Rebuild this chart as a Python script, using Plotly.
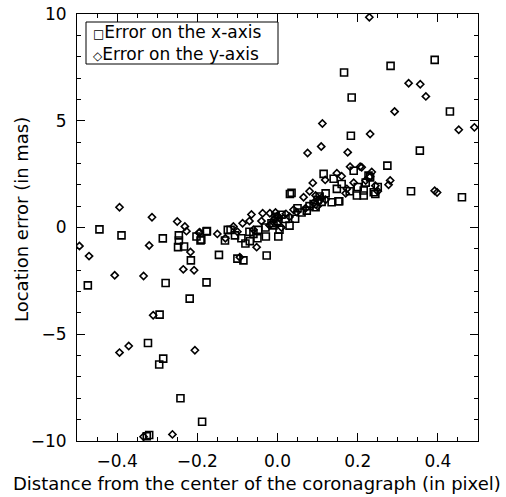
import plotly.graph_objects as go

# Error on the x-axis (squares): distance from center (pixel), location error (mas)
sq_x = [-0.039, 0.392, 0.282, 0.166, 0.185, 0.43, 0.183, 0.355, 0.274, 0.333, 0.46, 0.154, 0.135,
        -0.444, -0.389, -0.286, -0.246, -0.246, -0.248, -0.233, -0.202, -0.192, -0.177, -0.216,
        -0.473, -0.279, -0.177, -0.219, -0.294, -0.323, -0.285, -0.295, -0.242, -0.188, -0.32, -0.326,
        -0.176, -0.19, -0.124, -0.117, -0.131, -0.146, -0.10, -0.085, -0.027, -0.106, -0.069, -0.048,
        -0.029, 0.002, 0.03, 0.044, 0.031, 0.035, 0.073, 0.115, 0.148, 0.152, 0.14, 0.16, 0.19, 0.231,
        0.198, 0.215, 0.244, 0.227, 0.24, 0.215,
        -0.01, 0.0, -0.005, 0.005, -0.015, 0.01, -0.06, -0.05, -0.07, 0.09, 0.10, 0.095, 0.105, 0.11,
        0.08, 0.06, 0.05, 0.12, 0.20, 0.22, 0.25, 0.18, -0.09, -0.08, 0.02, -0.03]
sq_y = [9.35, 7.85, 7.57, 7.26, 6.09, 5.43, 4.30, 3.60, 2.90, 1.70, 1.42, 1.23, 1.18,
        -0.09, -0.37, -0.51, -0.37, -0.61, -0.92, -0.89, -0.42, -0.61, -0.19, -1.54,
        -2.71, -2.60, -2.57, -3.33, -4.08, -5.41, -6.14, -6.42, -8.0, -9.1, -9.72, -9.78,
        -0.17, -0.57, -0.11, -0.11, -0.61, -1.28, -1.46, -1.54, -1.31, -0.37, -0.64, -0.11,
        -0.42, -0.42, 0.09, 0.41, 1.57, 1.62, 0.79, 2.51, 1.81, 1.23, 2.28, 2.04, 2.66, 2.35,
        1.5, 1.73, 1.57, 2.43, 1.65, 1.5,
        0.1, 0.3, 0.5, -0.1, 0.2, 0.6, -0.3, -0.5, -0.2, 1.1, 1.3, 0.95, 1.45, 1.2,
        1.0, 0.7, 0.9, 1.6, 1.9, 2.1, 1.9, 1.7, -0.5, -0.75, 0.4, 0.0]

# Error on the y-axis (diamonds)
dm_x = [0.229, 0.327, 0.356, 0.37, 0.292, 0.231, 0.452, 0.491, 0.175, 0.281, 0.277, 0.392, 0.398,
        0.112, 0.109, 0.075,
        -0.394, -0.313, -0.25, -0.231, -0.227, -0.196, -0.494, -0.47, -0.32, -0.217, -0.235, -0.208,
        -0.406, -0.334, -0.31, -0.394, -0.371, -0.206, -0.262, -0.334,
        0.088, 0.119, -0.087, -0.065, -0.037, -0.019, 0.021, 0.04, 0.065, -0.052, -0.094, -0.194,
        0.173, 0.148, 0.181, 0.206, 0.231, 0.244, 0.048, 0.21,
        0.0, 0.005, -0.005, 0.01, -0.01, 0.0, -0.02, 0.10, 0.105, 0.095, 0.11, 0.09, 0.12,
        -0.06, -0.07, -0.10, -0.11, 0.16, 0.17, 0.22, 0.235, 0.25, 0.19, -0.04, 0.03, 0.07, 0.08,
        -0.15, -0.13]
dm_y = [9.85, 6.76, 6.71, 6.14, 5.43, 4.38, 4.58, 4.69, 3.52, 2.2, 2.0, 1.72, 1.64,
        4.87, 3.79, 3.49,
        0.95, 0.48, 0.28, 0.05, -0.17, -0.25, -0.87, -1.34, -0.84, -1.15, -1.96, -2.0,
        -2.24, -2.27, -4.11, -5.86, -5.55, -5.75, -9.69, -9.8,
        2.09, 2.23, 0.2, 0.61, 0.67, 0.67, 0.64, 0.83, 1.42, -0.92, -1.39, -0.22,
        1.81, 2.54, 2.85, 2.85, 2.38, 1.96, 0.72, 2.82,
        0.2, 0.45, 0.7, 0.0, 0.35, 0.55, 0.1, 1.0, 1.25, 1.5, 1.4, 1.15, 1.3,
        -0.1, 0.3, -0.2, 0.05, 2.4, 1.6, 2.2, 2.6, 1.7, 2.1, 0.3, 0.5, 0.9, 1.7,
        -0.3, -0.5]

legend_labels = ["Error on the x-axis", "Error on the y-axis"]
legend_symbols = ["\u25a1", "\u25c7"]
x_title = "Distance from the center of the coronagraph (in pixel)"
y_title = "Location error (in mas)"

FONT = "DejaVu Sans"
L, R, T, B, W, H = 77, 28, 14, 56, 506, 497
PW, PH = W - L - R, H - T - B


def px(xp):
    return (xp - L) / PW


def py(yp):
    return (H - B - yp) / PH


fig = go.Figure()
fig.add_trace(go.Scatter(x=sq_x, y=sq_y, mode="markers", showlegend=False,
                         marker=dict(symbol="square-open", size=7, color="black",
                                     line=dict(width=1.6, color="black"))))
fig.add_trace(go.Scatter(x=dm_x, y=dm_y, mode="markers", showlegend=False,
                         marker=dict(symbol="diamond-open", size=5.5, color="black",
                                     line=dict(width=1.6, color="black"))))

axis_common = dict(showgrid=False, zeroline=False, showline=True, linecolor="black", linewidth=1,
                   mirror="ticks", ticks="inside", ticklen=8, tickcolor="black", tickwidth=1,
                   automargin=False,
                   tickfont=dict(family=FONT, size=17, color="black"))

fig.update_xaxes(range=[-0.5, 0.5], tickvals=[-0.4, -0.2, 0.0, 0.2, 0.4],
                 ticktext=["\u22120.4", "\u22120.2", "0.0", "0.2", "0.4"],
                 minor=dict(dtick=0.05, tick0=0, ticks="inside", ticklen=4, tickcolor="black",
                            tickwidth=1),
                 ticklabelstandoff=5, **axis_common)
fig.update_yaxes(range=[-10, 10], tickvals=[-10, -5, 0, 5, 10],
                 ticktext=["\u221210", "\u22125", "0", "5", "10"],
                 minor=dict(dtick=1, tick0=0, ticks="inside", ticklen=4, tickcolor="black",
                            tickwidth=1),
                 ticklabelstandoff=6, **axis_common)

# axis titles placed like the original (x title centred on the page)
fig.add_annotation(xref="paper", yref="paper", x=px(256.5), y=py(484), text=x_title,
                   showarrow=False, xanchor="center", yanchor="middle",
                   font=dict(family=FONT, size=18, color="black"))
fig.add_annotation(xref="paper", yref="paper", x=px(21), y=py(220), text=y_title,
                   showarrow=False, xanchor="center", yanchor="middle", textangle=-90,
                   font=dict(family=FONT, size=18, color="black"))

# legend box with both entries in one text block
fig.add_shape(type="rect", xref="paper", yref="paper",
              x0=px(86), x1=px(278), y0=py(64), y1=py(22),
              line=dict(color="black", width=1), fillcolor="white", layer="above")
legend_text = "<br>".join(
    f"<span style='font-size:12px'>{s}</span>{lab}" for s, lab in zip(legend_symbols, legend_labels))
fig.add_annotation(xref="paper", yref="paper", x=px(91), y=py(43),
                   text=legend_text, showarrow=False, xanchor="left", yanchor="middle",
                   align="left", font=dict(family=FONT, size=17, color="black"))

fig.update_layout(width=W, height=H, margin=dict(l=L, r=R, t=T, b=B),
                  plot_bgcolor="white", paper_bgcolor="white")

fig.write_html("out.html")
